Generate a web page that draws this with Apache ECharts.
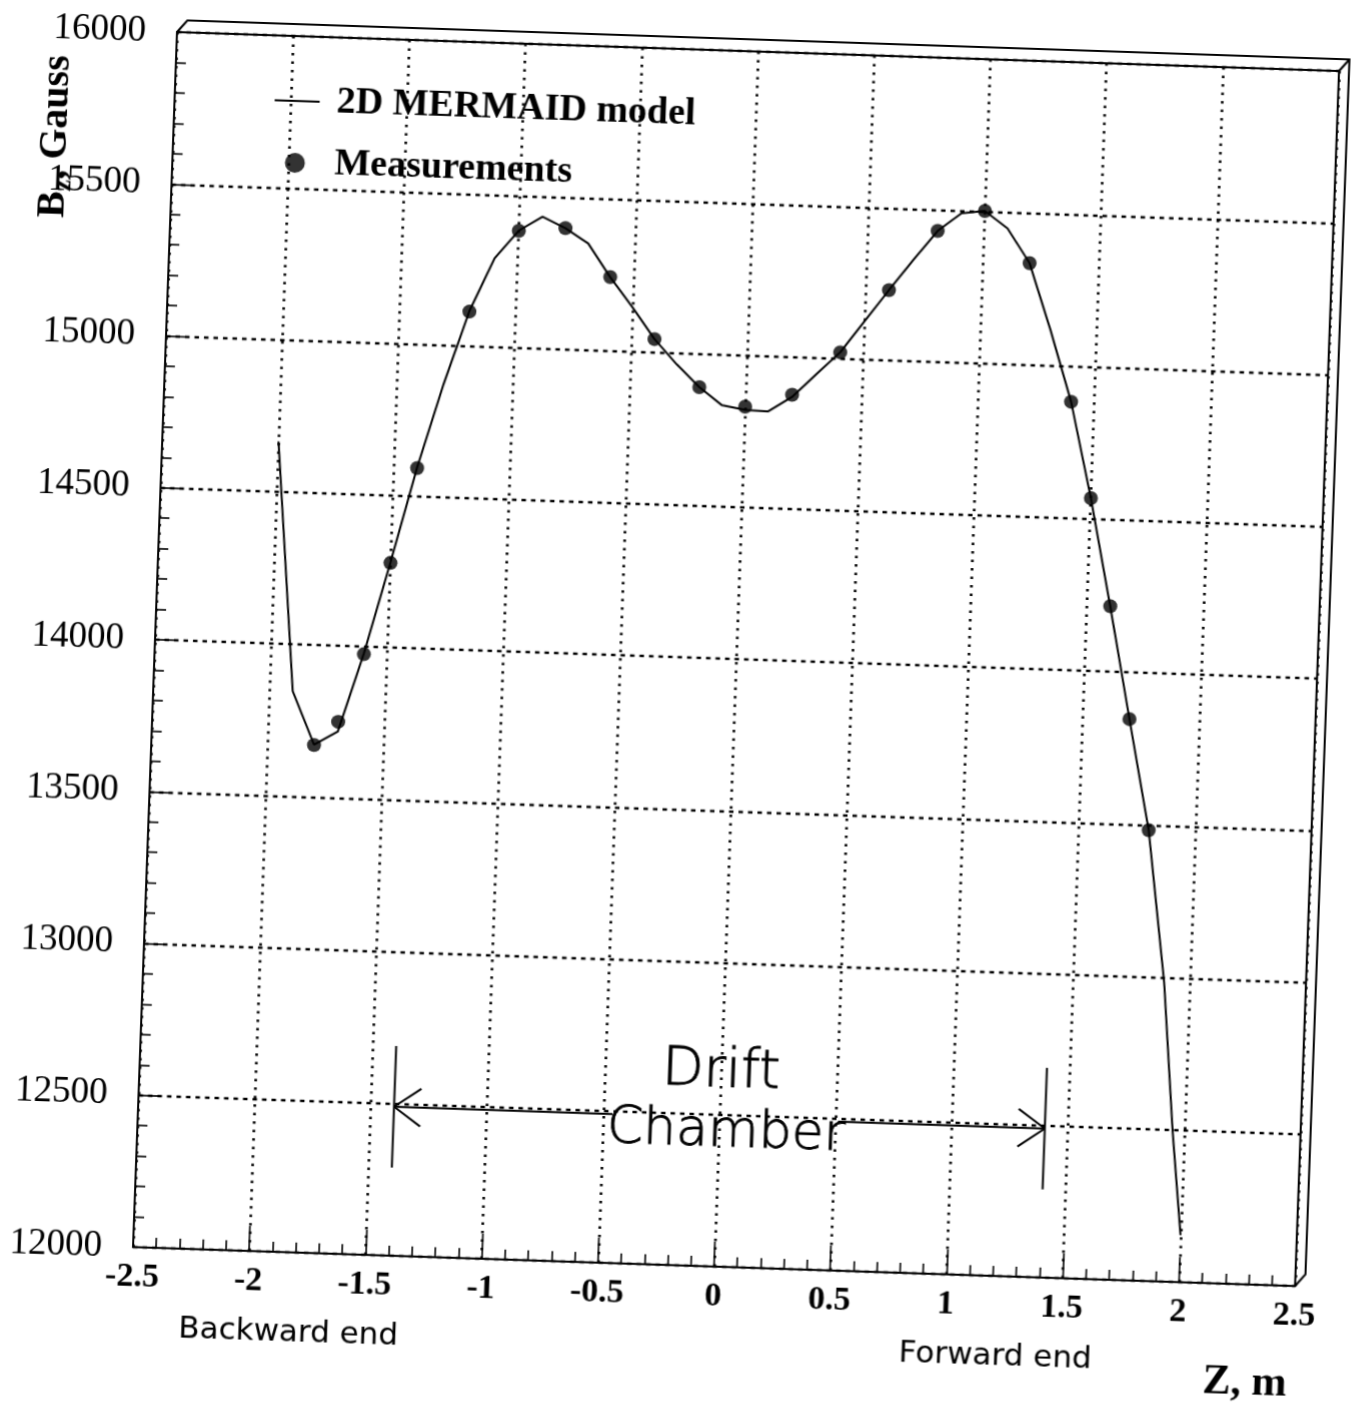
<!DOCTYPE html>
<html><head><meta charset="utf-8">
<script src="https://cdn.jsdelivr.net/npm/echarts@6/dist/echarts.min.js"></script>
<style>
html,body{margin:0;padding:0;background:#fff;overflow:hidden;width:1354px;height:1416px;}
#c{width:1354px;height:1416px;transform-origin:0 0;transform:matrix(1,0.03356,-0.03612,0.99754,25.7,-20);}
</style></head><body><div id="c"></div>
<script>
// ---- data ----
const zTickLabels = ['-2.5','-2','-1.5','-1','-0.5','0','0.5','1','1.5','2','2.5'];
const bTickLabels = ['12000','12500','13000','13500','14000','14500','15000','15500','16000'];

const modelZ = [-2.0,-1.9,-1.8,-1.7,-1.6,-1.5,-1.4,-1.3,-1.2,-1.1,-1.0,-0.9,-0.8,-0.7,-0.6,-0.5,-0.4,-0.3,-0.2,-0.1,0.0,0.1,0.2,0.3,0.4,0.5,0.6,0.7,0.8,0.9,1.0,1.1,1.2,1.3,1.4,1.5,1.6,1.7,1.8,1.89,1.95,2.0];
const modelB = [14665,13845,13672,13718,13978,14280,14595,14870,15115,15291,15385,15433,15398,15350,15242,15146,15043,14962,14890,14833,14820,14818,14868,14945,15020,15125,15230,15332,15430,15491,15501,15446,15334,15117,14883,14568,14215,13846,13483,12986,12494,12155];

const measZ = [-1.8,-1.7,-1.6,-1.5,-1.4,-1.2,-1.0,-0.8,-0.6,-0.4,-0.2,0.0,0.2,0.4,0.6,0.8,1.0,1.2,1.4,1.5,1.6,1.7,1.8];
const measB = [13671,13750,13975,14278,14593,15113,15384,15398,15242,15043,14890,14831,14875,15020,15230,15430,15501,15334,14883,14568,14215,13846,13483];

// Drift chamber annotation (data units)
const chamberZ = [-1.4, 1.4];
const chamberArrowB = 12490;
const chamberBarB = [12290, 12690];
const chamberTextGapZ = [-0.46, 0.51];
const arrowHead = {dz: 0.115, db: 62};

// ---- chart ----
const chart = echarts.init(document.getElementById('c'), null, {renderer: 'canvas'});
const black = '#000';
const annoLine = {type: 'line', symbol: 'none', silent: true, lineStyle: {color: black, width: 2}, z: 3};

const series = [
  {name: '2D MERMAID model', type: 'line', symbol: 'none', silent: true,
   data: modelZ.map((z, i) => [z, modelB[i]]),
   lineStyle: {color: black, width: 2}, itemStyle: {color: black}, z: 4},
  {name: 'Measurements', type: 'scatter', symbol: 'circle', symbolSize: 14, silent: true,
   data: measZ.map((z, i) => [z, measB[i]]),
   itemStyle: {color: black}, z: 5},
  Object.assign({}, annoLine, {data: [[chamberZ[0], chamberArrowB], [chamberTextGapZ[0], chamberArrowB]]}),
  Object.assign({}, annoLine, {data: [[chamberTextGapZ[1], chamberArrowB], [chamberZ[1], chamberArrowB]]}),
  Object.assign({}, annoLine, {data: [[chamberZ[0], chamberBarB[0]], [chamberZ[0], chamberBarB[1]]]}),
  Object.assign({}, annoLine, {data: [[chamberZ[1], chamberBarB[0]], [chamberZ[1], chamberBarB[1]]]}),
  Object.assign({}, annoLine, {data: [[chamberZ[0] + arrowHead.dz, chamberArrowB + arrowHead.db], [chamberZ[0], chamberArrowB], [chamberZ[0] + arrowHead.dz, chamberArrowB - arrowHead.db]]}),
  Object.assign({}, annoLine, {data: [[chamberZ[1] - arrowHead.dz, chamberArrowB + arrowHead.db], [chamberZ[1], chamberArrowB], [chamberZ[1] - arrowHead.dz, chamberArrowB - arrowHead.db]]})
];

const option = {
  animation: false,
  backgroundColor: '#fff',
  grid: {left: 153, right: 39, top: 47, bottom: 151, show: true, borderColor: black, borderWidth: 2, backgroundColor: 'transparent'},
  legend: {
    data: [
      {name: '2D MERMAID model', icon: 'path://M0,0 H45 V2 H0 Z', itemStyle: {color: black}},
      {name: 'Measurements', icon: 'circle', itemStyle: {color: black}}
    ],
    orient: 'vertical', left: 248, top: 87,
    itemWidth: 45, itemHeight: 20, itemGap: 22,
    symbolKeepAspect: true,
    selectedMode: false,
    textStyle: {fontFamily: 'Liberation Serif', fontWeight: 'bold', fontSize: 38, color: black, lineHeight: 40, padding: [0, 0, 0, 12]}
  },
  xAxis: {
    type: 'value', min: -2.5, max: 2.5, interval: 0.5,
    axisLine: {show: true, onZero: false, lineStyle: {color: black, width: 2}},
    axisTick: {show: true, inside: true, length: 25, lineStyle: {color: black, width: 1.6}},
    minorTick: {show: true, splitNumber: 5, length: 10, lineStyle: {color: black, width: 1.6}},
    splitLine: {show: true, lineStyle: {color: black, width: 2.6, type: [2.5, 6]}},
    minorSplitLine: {show: false},
    axisLabel: {
      color: black, fontFamily: 'Liberation Serif', fontWeight: 'bold', fontSize: 34, margin: 13,
      showMinLabel: true, showMaxLabel: true,
      formatter: v => zTickLabels[Math.round((v + 2.5) / 0.5)]
    }
  },
  yAxis: {
    type: 'value', min: 12000, max: 16000, interval: 500,
    axisLine: {show: true, onZero: false, lineStyle: {color: black, width: 2}},
    axisTick: {show: true, inside: true, length: 20, lineStyle: {color: black, width: 1.6}},
    minorTick: {show: true, splitNumber: 5, length: 10, lineStyle: {color: black, width: 1.6}},
    splitLine: {show: true, lineStyle: {color: black, width: 2.4, type: [4.5, 5]}},
    axisLabel: {
      color: black, fontFamily: 'Liberation Serif', fontSize: 37, margin: 31,
      showMinLabel: true, showMaxLabel: true,
      formatter: v => bTickLabels[Math.round((v - 12000) / 500)]
    }
  },
  series: series
};
chart.setOption(option);

// decorations positioned through the axes
const p = (z, b) => chart.convertToPixel({gridIndex: 0}, [z, b]);
const TL = p(-2.5, 16000), TR = p(2.5, 16000), BR = p(2.5, 12000);
const d = [10, -12];
const add = (a) => [a[0] + d[0], a[1] + d[1]];
const drift = p(0.0, 12640), chamber = p(0.03, 12443);
const sansFont = 'DejaVu Sans';

chart.setOption({
  graphic: [
    {type: 'polyline', silent: true, shape: {points: [TL, add(TL), add(TR), add(BR), BR]}, style: {stroke: black, lineWidth: 2, fill: null}},
    {type: 'line', silent: true, shape: {x1: TR[0], y1: TR[1], x2: add(TR)[0], y2: add(TR)[1]}, style: {stroke: black, lineWidth: 2}},
    {type: 'text', silent: true, x: drift[0], y: drift[1], style: {text: 'Drift', fontFamily: sansFont, fontWeight: 200, fontSize: 54, fill: black, stroke: black, lineWidth: 0.8, align: 'center', verticalAlign: 'middle'}},
    {type: 'text', silent: true, x: chamber[0], y: chamber[1], style: {text: 'Chamber', fontFamily: sansFont, fontWeight: 200, fontSize: 52, fill: black, stroke: black, lineWidth: 0.8, align: 'center', verticalAlign: 'middle'}},
    {type: 'text', silent: true, x: 311, y: 1346, style: {text: 'Backward end', fontFamily: sansFont, fontSize: 31, fill: black, align: 'center', verticalAlign: 'middle'}},
    {type: 'text', silent: true, x: 1018, y: 1346, style: {text: 'Forward end', fontFamily: sansFont, fontSize: 31, fill: black, align: 'center', verticalAlign: 'middle'}},
    {type: 'text', silent: true, x: 1268, y: 1364, style: {text: 'Z, m', fontFamily: 'Liberation Serif', fontWeight: 'bold', fontSize: 42, fill: black, align: 'center', verticalAlign: 'middle'}},
    {type: 'text', silent: true, x: 36, y: 237, rotation: Math.PI / 2,
     style: {text: '{a|B}{s|z}{a|, Gauss}', align: 'left', verticalAlign: 'middle',
       rich: {a: {fontFamily: 'Liberation Serif', fontWeight: 'bold', fontSize: 40, fill: black, lineHeight: 44},
              s: {fontFamily: 'Liberation Serif', fontWeight: 'bold', fontSize: 26, fill: black, lineHeight: 44, verticalAlign: 'bottom'}}}}
  ]
});
</script></body></html>
